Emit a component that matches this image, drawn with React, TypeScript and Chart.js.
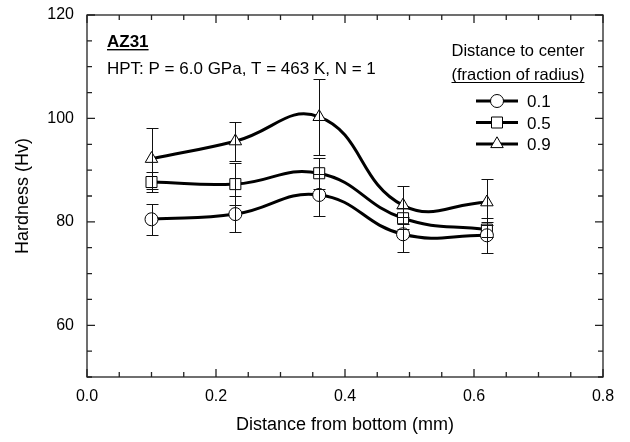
import React, { useEffect, useRef } from "react";
import { Chart, registerables } from "chart.js";

Chart.register(...registerables);

// ---- data ----
const distances = [0.1, 0.23, 0.36, 0.49, 0.62];
const hv01 = [80.5, 81.5, 85.2, 77.6, 77.4];
const hv05 = [87.7, 87.3, 89.4, 80.7, 78.5];
const hv09 = [92.2, 95.6, 100.3, 83.2, 83.8];
const err01 = [3.0, 3.5, 4.0, 3.4, 3.4];
const err05 = [1.9, 4.0, 3.0, 2.0, 1.5];
const err09 = [5.9, 3.8, 7.4, 3.7, 4.5];
const seriesNames = ["0.1", "0.5", "0.9"];
const xTickLabels = [0, 0.2, 0.4, 0.6, 0.8];
const yTickLabels = [60, 80, 100, 120];
const xMinorStep = 0.05;
const yMinorStep = 5;
const xRange = [0, 0.8];
const yRange = [50, 120];

const FONT = '"Liberation Sans", Arial, Helvetica, sans-serif';
const styles = ["circle", "rect", "triangle"];
const radii = [6.5, 7.8, 7.2];
const values = [hv01, hv05, hv09];
const errors = [err01, err05, err09];

function drawMarker(ctx: CanvasRenderingContext2D, style: string, x: number, y: number) {
  ctx.save();
  ctx.fillStyle = "#fff";
  ctx.strokeStyle = "#000";
  ctx.lineWidth = 1;
  ctx.beginPath();
  if (style === "circle") {
    ctx.arc(x, y, 6.5, 0, Math.PI * 2);
  } else if (style === "rect") {
    ctx.rect(x - 5.5, y - 5.5, 11, 11);
  } else {
    const r = 7.2;
    for (let i = 0; i < 3; i++) {
      const a = (i * 2 * Math.PI) / 3;
      const px = x + Math.sin(a) * r;
      const py = y - Math.cos(a) * r;
      if (i === 0) ctx.moveTo(px, py);
      else ctx.lineTo(px, py);
    }
    ctx.closePath();
  }
  ctx.fill();
  ctx.stroke();
  ctx.restore();
}

const framePlugin = {
  id: "frameTicks",
  afterDatasetsDraw(chart: any) {
    const { ctx, chartArea: a, scales } = chart;
    const xs = scales.x;
    const ys = scales.y;
    // error bars
    ctx.save();
    ctx.strokeStyle = "#111";
    ctx.lineWidth = 1;
    values.forEach((vals, si) => {
      vals.forEach((v, i) => {
        const e = errors[si][i];
        const px = Math.round(xs.getPixelForValue(distances[i])) + 0.5;
        const yt = Math.round(ys.getPixelForValue(v + e)) + 0.5;
        const yb = Math.round(ys.getPixelForValue(v - e)) + 0.5;
        ctx.beginPath();
        ctx.moveTo(px, yt);
        ctx.lineTo(px, yb);
        ctx.moveTo(px - 6, yt);
        ctx.lineTo(px + 6, yt);
        ctx.moveTo(px - 6, yb);
        ctx.lineTo(px + 6, yb);
        ctx.stroke();
      });
    });
    ctx.restore();

    // frame
    ctx.save();
    ctx.strokeStyle = "#222";
    ctx.lineWidth = 1.3;
    ctx.strokeRect(a.left, a.top, a.right - a.left, a.bottom - a.top);
    ctx.beginPath();
    const nx = Math.round((xRange[1] - xRange[0]) / xMinorStep);
    for (let k = 0; k <= nx; k++) {
      const v = xRange[0] + k * xMinorStep;
      const major = xTickLabels.some((t) => Math.abs(t - v) < 1e-6);
      const len = major ? 8 : 5;
      const px = xs.getPixelForValue(v);
      ctx.moveTo(px, a.bottom);
      ctx.lineTo(px, a.bottom - len);
      ctx.moveTo(px, a.top);
      ctx.lineTo(px, a.top + len);
    }
    const ny = Math.round((yRange[1] - yRange[0]) / yMinorStep);
    for (let k = 0; k <= ny; k++) {
      const v = yRange[0] + k * yMinorStep;
      const major = yTickLabels.some((t) => Math.abs(t - v) < 1e-6);
      const len = major ? 8 : 5;
      const py = ys.getPixelForValue(v);
      ctx.moveTo(a.left, py);
      ctx.lineTo(a.left + len, py);
      ctx.moveTo(a.right, py);
      ctx.lineTo(a.right - len, py);
    }
    ctx.stroke();
    ctx.restore();

    // annotations
    ctx.save();
    ctx.fillStyle = "#000";
    ctx.textBaseline = "alphabetic";
    ctx.textAlign = "left";
    ctx.font = `bold 17px ${FONT}`;
    const t1 = "AZ31";
    const x1 = a.left + 20;
    ctx.fillText(t1, x1, 47);
    let w = ctx.measureText(t1).width;
    ctx.fillRect(x1, 49, w, 1.4);
    ctx.font = `17px ${FONT}`;
    ctx.fillText("HPT: P = 6.0 GPa, T = 463 K, N = 1", x1, 74);

    // legend
    ctx.textAlign = "center";
    ctx.font = `16.5px ${FONT}`;
    const lcx = 518;
    ctx.fillText("Distance to center", lcx, 56);
    const t2 = "(fraction of radius)";
    ctx.fillText(t2, lcx, 80);
    w = ctx.measureText(t2).width;
    ctx.fillRect(lcx - w / 2, 82, w, 1);
    ctx.textAlign = "left";
    ctx.font = `17px ${FONT}`;
    seriesNames.forEach((name, i) => {
      const y = 101 + i * 21.5;
      ctx.beginPath();
      ctx.strokeStyle = "#000";
      ctx.lineWidth = 3;
      ctx.moveTo(476, y);
      ctx.lineTo(518, y);
      ctx.stroke();
      drawMarker(ctx, styles[i], 497, y);
      ctx.fillText(name, 527, y + 6);
    });
    ctx.restore();
  },
};

export default function App() {
  const ref = useRef<HTMLCanvasElement | null>(null);
  useEffect(() => {
    if (!ref.current) return;
    const datasets = values.map((vals, si) => ({
      label: seriesNames[si],
      data: vals.map((v, i) => ({ x: distances[i], y: v })),
      showLine: true,
      borderColor: "#000",
      borderWidth: 3,
      tension: 0.45,
      pointStyle: styles[si],
      pointRadius: radii[si],
      pointBackgroundColor: "#fff",
      pointBorderColor: "#000",
      pointBorderWidth: 1,
      fill: false,
    }));
    const chart = new Chart(ref.current, {
      type: "scatter",
      data: { datasets },
      options: {
        animation: false,
        responsive: false,
        devicePixelRatio: 1,
        layout: { padding: { top: 15, right: 27, left: 0, bottom: 0 } },
        plugins: { legend: { display: false }, tooltip: { enabled: false } },
        scales: {
          x: {
            type: "linear",
            min: xRange[0],
            max: xRange[1],
            grid: { display: false, drawTicks: false },
            border: { display: false },
            afterFit: (s: any) => {
              s.height = 65;
              s.paddingLeft = 0;
              s.paddingRight = 0;
            },
            afterBuildTicks: (s: any) => {
              s.ticks = xTickLabels.map((v) => ({ value: v }));
            },
            ticks: {
              padding: 10,
              color: "#000",
              font: { family: FONT, size: 16 },
              maxRotation: 0,
              callback: (v: any) => Number(v).toFixed(1),
            },
            title: {
              display: true,
              text: "Distance from bottom (mm)",
              color: "#000",
              font: { family: FONT, size: 18 },
              padding: { top: 0, bottom: 6 },
            },
          },
          y: {
            type: "linear",
            min: yRange[0],
            max: yRange[1],
            grid: { display: false, drawTicks: false },
            border: { display: false },
            afterFit: (s: any) => {
              s.width = 87;
              s.paddingTop = 0;
              s.paddingBottom = 0;
            },
            afterBuildTicks: (s: any) => {
              s.ticks = yTickLabels.map((v) => ({ value: v }));
            },
            ticks: {
              padding: 13,
              color: "#000",
              font: { family: FONT, size: 16 },
              callback: (v: any) => String(v),
            },
            title: {
              display: true,
              text: "Hardness (Hv)",
              color: "#000",
              font: { family: FONT, size: 18 },
              padding: { top: 12, bottom: 0 },
            },
          },
        },
      },
      plugins: [framePlugin],
    } as any);
    return () => chart.destroy();
  }, []);
  return (
    <div style={{ position: "fixed", left: 0, top: 0, width: 630, height: 442, background: "#fff" }}>
      <canvas ref={ref} width={630} height={442} style={{ width: 630, height: 442 }} />
    </div>
  );
}
